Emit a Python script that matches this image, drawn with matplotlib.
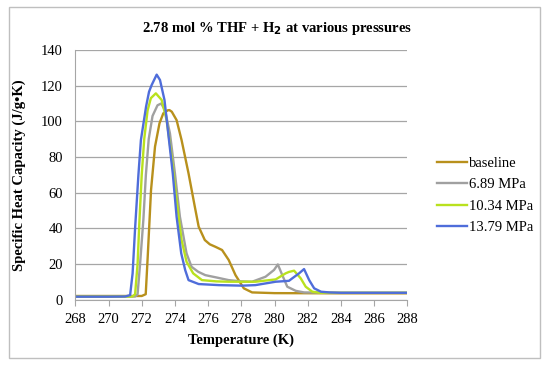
import matplotlib
matplotlib.use("Agg")
import matplotlib.pyplot as plt
from matplotlib.patches import Rectangle

plt.rcParams['font.family'] = ['Liberation Serif', 'DejaVu Serif']

# readings: temperature (K) / specific heat capacity (J/g.K)
t_base = [268, 270, 272.0, 272.24, 272.36, 272.56, 272.8, 273.07, 273.3, 273.57, 273.67,
          273.81, 274.1, 274.4, 274.82, 275.2, 275.43, 275.8, 276.1, 276.44, 276.84,
          277.24, 277.65, 278.15, 278.65, 280, 284, 288]
v_base = [2.0, 2.0, 2.0, 3.0, 24, 61.4, 85.8, 98.9, 104.5, 106.2, 106.3,
          105.4, 100.7, 89.5, 70.8, 52, 40.9, 33.4, 31, 29.6, 27.8,
          22.2, 13.7, 6.3, 4.0, 3.6, 3.5, 3.5]

t_689 = [268, 270, 271.6, 271.75, 271.9, 272.1, 272.25, 272.42, 272.65, 272.95, 273.17,
         273.4, 273.7, 274.0, 274.3, 274.7, 275.0, 275.4, 275.83, 276.6, 277.24,
         278.0, 278.65, 279.46, 279.97, 280.2, 280.47, 280.77, 281.28, 281.78, 284, 288]
v_689 = [1.6, 1.6, 1.7, 3.0, 20, 45, 70, 90, 103, 109, 110,
         106.3, 93.2, 70.8, 46.5, 25.9, 18.4, 15.6, 13.7, 12.2, 10.9,
         10.2, 10.0, 12.8, 16.6, 19.7, 13.7, 7.2, 4.9, 4.0, 3.8, 3.8]

t_1034 = [268, 270, 271.45, 271.6, 271.75, 271.85, 272.0, 272.15, 272.35, 272.55, 272.85,
          273.2, 273.5, 273.8, 274.1, 274.4, 274.7, 275.1, 275.63, 276.5, 277.24,
          278.85, 280.07, 280.67, 280.87, 281.18, 281.58, 281.88, 282.28, 282.78, 284, 288]
v_1034 = [1.6, 1.6, 1.7, 3.0, 20, 42, 70, 90, 106, 113, 115.7,
          112, 100.7, 80, 55.8, 33.4, 21.2, 14.7, 10.9, 10.2, 10.0,
          10.0, 11.3, 14.7, 15.5, 16.2, 11.9, 7.2, 4.4, 3.8, 3.8, 3.8]

t_1379 = [268, 270, 271.0, 271.3, 271.45, 271.6, 271.8, 271.95, 272.26, 272.44, 272.6,
          272.9, 273.1, 273.37, 273.6, 273.87, 274.1, 274.38, 274.62, 274.82, 275.43,
          276.64, 278.05, 278.85, 280.07, 280.87, 281.07, 281.48, 281.78, 282.09, 282.39,
          282.8, 283.3, 284, 288]
v_1379 = [1.6, 1.6, 1.7, 2.5, 14.7, 40, 70, 89.5, 108.2, 116.6, 120.4,
          126.2, 123.2, 112, 93, 70.8, 46.5, 25.9, 16.5, 10.9, 8.7,
          8.1, 7.8, 8.1, 10, 10.5, 11.9, 14.7, 17.1, 10.9, 6.3,
          4.4, 4.0, 3.8, 3.8]

labels = ['baseline', '6.89 MPa', '10.34 MPa', '13.79 MPa']
colors = ['#B8901C', '#A0A0A0', '#B9E11E', '#4F6DDA']

fig = plt.figure(figsize=(5.5, 3.68), dpi=100)
ax = fig.add_axes([0.137, 0.186, 0.6035, 0.678])

series = [(t_base, v_base), (t_689, v_689), (t_1034, v_1034), (t_1379, v_1379)]
for (t, v), lab, c in zip(series, labels, colors):
    ax.plot(t, v, color=c, lw=1.7, label=lab, solid_joinstyle='round')

ax.set_xlim(268, 288)
ax.set_ylim(0, 140)
ax.set_xticks(range(268, 289, 2))
ax.set_yticks(range(0, 141, 20))
ax.yaxis.grid(True, color='#A6A6A6', lw=0.9)
ax.set_axisbelow(True)
for s in ['top', 'right']:
    ax.spines[s].set_visible(False)
for s in ['left', 'bottom']:
    ax.spines[s].set_color('#A6A6A6')
ax.tick_params(axis='x', colors='#A6A6A6', length=4, labelcolor='black', labelsize=10.5, pad=6)
ax.tick_params(axis='y', colors='#A6A6A6', length=0, labelcolor='black', labelsize=10.5, pad=9)

ax.set_xlabel('Temperature (K)', fontweight='bold', fontsize=10.5, labelpad=5)
ax.set_ylabel('Specific Heat Capacity (J/g\u2022K)', fontweight='bold', fontsize=10.5, labelpad=11)

fig.text(0.503, 0.922, '2.78 mol % THF + H$_\\mathbf{2}$ at various pressures',
         ha='center', va='center', fontweight='bold', fontsize=10.5)

fig.legend(loc='upper left', bbox_to_anchor=(0.795, 0.575), frameon=False,
           fontsize=10.5, handlelength=2.05, handletextpad=0.1,
           labelspacing=0.57, borderpad=0, borderaxespad=0)

fig.patches.append(Rectangle((9 / 550, 1 - 358 / 368), 531 / 550, 351 / 368,
                             transform=fig.transFigure, fill=False,
                             edgecolor='#BFBFBF', lw=1))

fig.savefig('out.png', dpi=100)
